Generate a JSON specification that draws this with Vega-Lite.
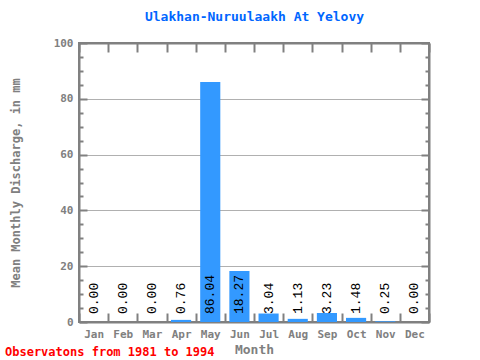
{
  "$schema": "https://vega.github.io/schema/vega-lite/v6.json",
  "width": 350,
  "height": 279,
  "autosize": "none",
  "padding": {"left": 79, "top": 43, "right": 51, "bottom": 38},
  "background": "white",
  "title": {
    "text": "Observatons from 1981 to 1994",
    "orient": "bottom",
    "anchor": "start",
    "frame": "group",
    "dx": -74,
    "offset": -9,
    "color": "#ff0000",
    "font": "DejaVu Sans Mono",
    "fontSize": 12,
    "fontWeight": "bold"
  },
  "config": {
    "view": {"stroke": "#808080", "strokeWidth": 2},
    "axis": {
      "domainColor": "#808080",
      "domainWidth": 2,
      "tickColor": "#808080",
      "tickWidth": 2,
      "labelColor": "#808080",
      "labelFont": "DejaVu Sans Mono",
      "labelFontWeight": "bold",
      "labelFontSize": 11,
      "titleColor": "#808080",
      "titleFont": "DejaVu Sans Mono",
      "titleFontWeight": "bold"
    }
  },
  "data": {
    "values": [
      {"month": "Jan", "discharge": 0.0},
      {"month": "Feb", "discharge": 0.0},
      {"month": "Mar", "discharge": 0.0},
      {"month": "Apr", "discharge": 0.76},
      {"month": "May", "discharge": 86.04},
      {"month": "Jun", "discharge": 18.27},
      {"month": "Jul", "discharge": 3.04},
      {"month": "Aug", "discharge": 1.13},
      {"month": "Sep", "discharge": 3.23},
      {"month": "Oct", "discharge": 1.48},
      {"month": "Nov", "discharge": 0.25},
      {"month": "Dec", "discharge": 0.0}
    ]
  },
  "layer": [
    {
      "mark": {"type": "bar", "color": "#3399ff", "width": {"band": 0.69}},
      "encoding": {
        "x": {
          "field": "month",
          "type": "nominal",
          "sort": null,
          "scale": {"paddingInner": 0, "paddingOuter": 0},
          "axis": {
            "orient": "bottom",
            "title": "Month",
            "titleFontSize": 13,
            "titlePadding": 4,
            "labelAngle": 0,
            "labelPadding": 15,
            "tickBand": "extent",
            "tickSize": -9
          }
        },
        "y": {
          "field": "discharge",
          "type": "quantitative",
          "scale": {"domain": [0, 100]},
          "axis": {
            "orient": "left",
            "title": "Mean Monthly Discharge, in mm",
            "titleFontSize": 12,
            "titlePadding": 31,
            "values": [0, 5, 10, 15, 20, 25, 30, 35, 40, 45, 50, 55, 60, 65, 70, 75, 80, 85, 90, 95, 100],
            "labelExpr": "datum.value % 20 === 0 ? datum.label : ''",
            "labelPadding": 14,
            "tickSize": {"condition": {"test": "datum.value % 20 === 0", "value": -8}, "value": -4},
            "grid": true,
            "gridColor": "#b0b0b0",
            "gridWidth": 1,
            "gridOpacity": {"condition": {"test": "datum.value % 20 === 0 && datum.value > 0 && datum.value < 100", "value": 1}, "value": 0}
          }
        }
      }
    },
    {
      "mark": {"type": "text", "angle": -90, "align": "left", "baseline": "middle", "dx": 8, "font": "Liberation Mono", "fontSize": 13, "color": "black"},
      "encoding": {
        "x": {
          "field": "month",
          "type": "nominal",
          "sort": null,
          "axis": {
            "orient": "top",
            "title": "Ulakhan-Nuruulaakh At Yelovy",
            "titleColor": "#0066ff",
            "titleFontSize": 13,
            "titlePadding": 19,
            "labels": false,
            "tickBand": "extent",
            "tickSize": -9
          }
        },
        "y": {
          "datum": 0,
          "type": "quantitative",
          "axis": {
            "orient": "right",
            "title": null,
            "labels": false,
            "grid": false,
            "values": [0, 5, 10, 15, 20, 25, 30, 35, 40, 45, 50, 55, 60, 65, 70, 75, 80, 85, 90, 95, 100],
            "tickSize": {"condition": {"test": "datum.value % 20 === 0", "value": -8}, "value": -4}
          }
        },
        "text": {"field": "discharge", "type": "quantitative", "format": ".2f"}
      }
    }
  ],
  "resolve": {"axis": {"x": "independent", "y": "independent"}}
}
